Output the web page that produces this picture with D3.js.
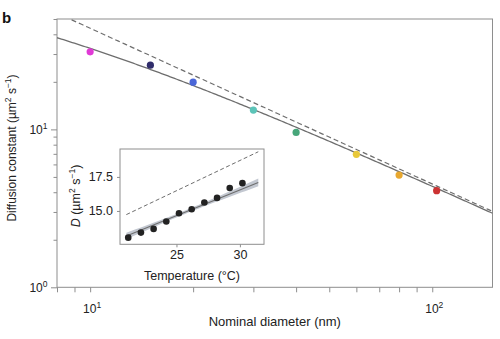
<!DOCTYPE html>
<html>
<head>
<meta charset="utf-8">
<script src="https://cdn.jsdelivr.net/npm/d3@7"></script>
<style>
  html, body { margin: 0; padding: 0; background: #fff; }
  svg { display: block; font-family: "Liberation Sans", Arial, Helvetica, sans-serif; }
</style>
</head>
<body>
<svg id="chart" width="500" height="339"></svg>
<script>
// Main panel: diffusion constant of nanoparticles vs nominal diameter
const diameters = [10, 15, 20, 30, 40, 60, 80, 103];
const diffusion = [31.0, 25.5, 19.9, 13.25, 9.57, 6.95, 5.14, 4.09];
const dotColors = ["#e03ad6", "#302d6b", "#4a66d8", "#5cc4b8", "#47a67a", "#e8c83a", "#e8a830", "#cc3333"];

// Fitted model D = A / (d + d0) and the Stokes–Einstein prediction D = B * d^p
const fitA = 453, fitOffset = 3.9;
const theoryB = 423, theoryExp = -0.986;

const xTicksMain = [8, 9, 10, 20, 30, 40, 50, 60, 70, 80, 90, 100];
const xLabelTicks = [10, 100];
const yTicksMain = [1, 2, 3, 4, 5, 6, 7, 8, 9, 10, 20, 30, 40, 50];
const yLabelTicks = [1, 10];

// Inset: diffusion constant vs temperature
const temps = [21.2, 22.2, 23.2, 24.2, 25.2, 26.2, 27.2, 28.2, 29.2, 30.2];
const tempD = [13.04, 13.41, 13.68, 14.22, 14.83, 15.13, 15.62, 15.96, 16.69, 17.04];
const insetFit = { slope: 0.378, intercept: 5.203, seScale: 0.4 };
const insetTheory = { slope: 0.444, intercept: 5.384 };
const insetRange = [21.05, 31.45];
const insetXTicks = [25, 30];
const insetYTicks = [15.0, 17.5];

const svg = d3.select("#chart");
const frameColor = "#8e8e8e";
const lineColor = "#6e6e6e";

// ---------- main panel ----------
const x = d3.scaleLog().domain([8, 150]).range([57, 492.5]);
const y = d3.scaleLog().domain([1, 50]).range([287.3, 19]);

svg.append("rect")
  .attr("x", x.range()[0]).attr("y", y.range()[1])
  .attr("width", x.range()[1] - x.range()[0])
  .attr("height", y.range()[0] - y.range()[1])
  .attr("fill", "none").attr("stroke", frameColor).attr("stroke-width", 1);

// ticks
const xAxis = svg.append("g").attr("transform", `translate(0,${y.range()[0]})`)
  .call(d3.axisBottom(x).tickValues(xTicksMain).tickSize(5).tickFormat(""));
const yAxis = svg.append("g").attr("transform", `translate(${x.range()[0]},0)`)
  .call(d3.axisLeft(y).tickValues(yTicksMain).tickSize(4).tickFormat(""));
[xAxis, yAxis].forEach(g => {
  g.select(".domain").remove();
  g.selectAll(".tick line").attr("stroke", frameColor);
});
yAxis.selectAll(".tick line")
  .attr("x2", d => yLabelTicks.includes(d) ? -6 : -3.5);

// tick labels with superscript exponents
function powerLabel(sel, base, exp) {
  sel.append("tspan").text(base);
  sel.append("tspan").attr("dy", -5).attr("font-size", 8.5).text(exp);
}
xLabelTicks.forEach(v => {
  const t = svg.append("text").attr("x", x(v) + 2).attr("y", 312.5)
    .attr("text-anchor", "middle").attr("font-size", 12).attr("fill", "#222");
  powerLabel(t, "10", Math.round(Math.log10(v)));
});
yLabelTicks.forEach(v => {
  const t = svg.append("text").attr("x", 47.5).attr("y", y(v) + 4.5)
    .attr("text-anchor", "end").attr("font-size", 12).attr("fill", "#222");
  powerLabel(t, "10", Math.round(Math.log10(v)));
});

// clip lines to the plotting frame
svg.append("clipPath").attr("id", "mainClip").append("rect")
  .attr("x", x.range()[0]).attr("y", y.range()[1])
  .attr("width", x.range()[1] - x.range()[0])
  .attr("height", y.range()[0] - y.range()[1]);

const dSamples = d3.range(0, 201).map(i => 8 * Math.pow(150 / 8, i / 200));
const curve = d3.line().x(d => x(d[0])).y(d => y(d[1]));

svg.append("path")
  .datum(dSamples.map(d => [d, theoryB * Math.pow(d, theoryExp)]))
  .attr("d", curve).attr("clip-path", "url(#mainClip)")
  .attr("fill", "none").attr("stroke", lineColor).attr("stroke-width", 1.2)
  .attr("stroke-dasharray", "5,3");

svg.append("path")
  .datum(dSamples.map(d => [d, fitA / (d + fitOffset)]))
  .attr("d", curve).attr("clip-path", "url(#mainClip)")
  .attr("fill", "none").attr("stroke", lineColor).attr("stroke-width", 1.3);

svg.append("g").selectAll("circle")
  .data(diameters.map((d, i) => ({ d, D: diffusion[i], c: dotColors[i] })))
  .join("circle")
  .attr("cx", p => x(p.d)).attr("cy", p => y(p.D)).attr("r", 3.6)
  .attr("fill", p => p.c);

// axis titles
svg.append("text").attr("x", (x.range()[0] + x.range()[1]) / 2).attr("y", 326)
  .attr("text-anchor", "middle").attr("font-size", 13).attr("fill", "#222")
  .text("Nominal diameter (nm)");

const yTitle = svg.append("text")
  .attr("transform", "translate(15.5,148) rotate(-90)")
  .attr("text-anchor", "middle").attr("font-size", 12).attr("fill", "#222");
yTitle.append("tspan").text("Diffusion constant (µm");
yTitle.append("tspan").attr("dy", -5).attr("font-size", 8.5).text("2");
yTitle.append("tspan").attr("dy", 5).text(" s");
yTitle.append("tspan").attr("dy", -5).attr("font-size", 8.5).text("−1");
yTitle.append("tspan").attr("dy", 5).text(")");

svg.append("text").attr("x", 2).attr("y", 22.5)
  .attr("font-size", 15).attr("font-weight", "bold").attr("fill", "#111").text("b");

// ---------- inset ----------
const ix = d3.scaleLinear().domain([20.55, 31.9]).range([120, 264]);
const iy = d3.scaleLinear().domain([12.55, 19.55]).range([244.3, 149]);

svg.append("rect")
  .attr("x", 120).attr("y", 149).attr("width", 144).attr("height", 95.3)
  .attr("fill", "#fff").attr("stroke", frameColor).attr("stroke-width", 1);

const ixAxis = svg.append("g").attr("transform", `translate(0,${iy.range()[0]})`)
  .call(d3.axisBottom(ix).tickValues(insetXTicks).tickSize(3).tickPadding(3)
    .tickFormat(d3.format("d")));
const iyAxis = svg.append("g").attr("transform", `translate(${ix.range()[0]},0)`)
  .call(d3.axisLeft(iy).tickValues(insetYTicks).tickSize(3).tickPadding(4)
    .tickFormat(d3.format(".1f")));
[ixAxis, iyAxis].forEach(g => {
  g.select(".domain").remove();
  g.selectAll(".tick line").attr("stroke", frameColor);
  g.selectAll(".tick text").attr("font-size", 12.5).attr("fill", "#222")
    .attr("font-family", "\"Liberation Sans\", Arial, sans-serif");
});

// confidence band of the linear fit
const tMean = d3.mean(temps);
const sxx = d3.sum(temps, t => (t - tMean) ** 2);
const bandT = d3.range(0, 41).map(i => insetRange[0] + (insetRange[1] - insetRange[0]) * i / 40);
const fitAt = t => insetFit.intercept + insetFit.slope * t;
const halfW = t => insetFit.seScale * Math.sqrt(1 / temps.length + (t - tMean) ** 2 / sxx);

svg.append("path")
  .datum(bandT)
  .attr("d", d3.area().x(t => ix(t)).y0(t => iy(fitAt(t) - halfW(t))).y1(t => iy(fitAt(t) + halfW(t))))
  .attr("fill", "#c3c8d1").attr("stroke", "none");

svg.append("line")
  .attr("x1", ix(insetRange[0])).attr("y1", iy(fitAt(insetRange[0])))
  .attr("x2", ix(insetRange[1])).attr("y2", iy(fitAt(insetRange[1])))
  .attr("stroke", lineColor).attr("stroke-width", 1.1);

const theoryAt = t => insetTheory.intercept + insetTheory.slope * t;
svg.append("line")
  .attr("x1", ix(insetRange[0])).attr("y1", iy(theoryAt(insetRange[0])))
  .attr("x2", ix(insetRange[1])).attr("y2", iy(theoryAt(insetRange[1])))
  .attr("stroke", lineColor).attr("stroke-width", 1).attr("stroke-dasharray", "4,2.5");

svg.append("g").selectAll("circle")
  .data(temps.map((t, i) => [t, tempD[i]]))
  .join("circle")
  .attr("cx", p => ix(p[0])).attr("cy", p => iy(p[1])).attr("r", 3.3)
  .attr("fill", "#222");

svg.append("text").attr("x", 192).attr("y", 280)
  .attr("text-anchor", "middle").attr("font-size", 12.5).attr("fill", "#222")
  .text("Temperature (°C)");

const iyTitle = svg.append("text")
  .attr("transform", "translate(80,196) rotate(-90)")
  .attr("text-anchor", "middle").attr("font-size", 12.5).attr("fill", "#222");
iyTitle.append("tspan").attr("font-style", "italic").text("D");
iyTitle.append("tspan").text(" (µm");
iyTitle.append("tspan").attr("dy", -5).attr("font-size", 8.5).text("2");
iyTitle.append("tspan").attr("dy", 5).text(" s");
iyTitle.append("tspan").attr("dy", -5).attr("font-size", 8.5).text("−1");
iyTitle.append("tspan").attr("dy", 5).text(")");
</script>
</body>
</html>
